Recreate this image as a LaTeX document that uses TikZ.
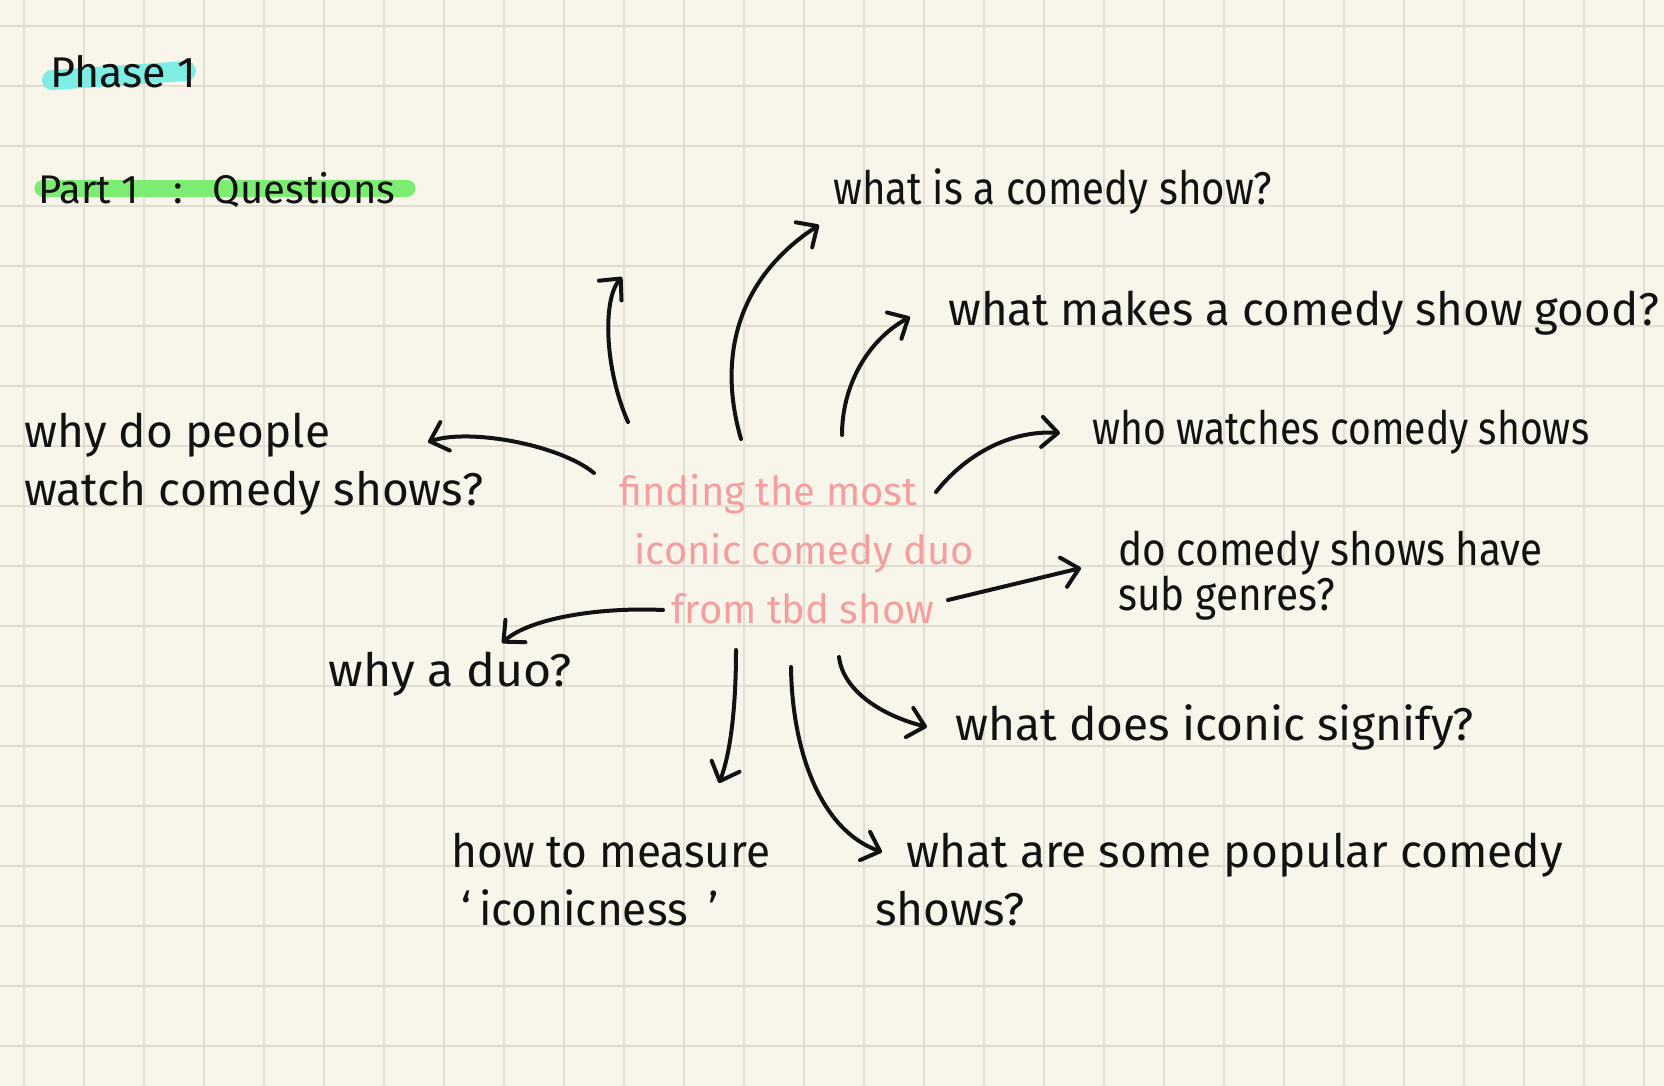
\documentclass[tikz,border=0pt]{standalone}
\usepackage{fontspec}
\setmainfont{Fira Sans}
\usetikzlibrary{arrows.meta,backgrounds}
\definecolor{paper}{RGB}{248,246,234}
\definecolor{gridgray}{RGB}{226,222,211}
\definecolor{ink}{RGB}{18,18,18}
\definecolor{pinkink}{RGB}{245,158,158}
\definecolor{cyanmark}{RGB}{126,238,228}
\definecolor{greenmark}{RGB}{124,236,114}

\begin{document}
\begin{tikzpicture}[x=0.5pt,y=-0.5pt,
    question/.style={anchor=base west, align=left, inner sep=0pt, text=ink,
      font=\fontsize{23}{29}\selectfont\addfontfeature{FakeStretch=#1}},
    question/.default=1,
    hubtext/.style={anchor=base west, align=left, inner sep=0pt, text=pinkink, font=\fontsize{20}{29.5}\selectfont},
    link/.style={draw=ink, line width=2pt, line cap=round, line join=round,
      -{Straight Barb[length=8pt,width=15pt,round]}},
    hilite/.style={line width=#1, line cap=round}]
    \useasboundingbox (0,0) rectangle (1664,1086);

    % squared paper
    \begin{scope}[on background layer]
        \fill[paper] (0,0) rectangle (1664,1086);
        \foreach \k in {0,...,27}
            \draw[gridgray, line width=0.7pt] (24+60*\k,0) -- (24+60*\k,1086);
        \foreach \k in {0,...,17}
            \draw[gridgray, line width=1pt] (0,26+60*\k) -- (1664,26+60*\k);
    \end{scope}

    \node (phase) at (50,88) [anchor=base west, inner sep=0pt, text=ink, font=\fontsize{21.5}{24}\selectfont] {Phase 1};
    \node (part) at (38,203) [anchor=base west, inner sep=0pt, text=ink, font=\fontsize{20}{22}\selectfont] {Part 1\hspace{17pt}:\hspace{15pt}Questions};

    % multi-line nodes sit on the baseline of their last line
    \node (hub) at (619,623) [hubtext] {finding the most\\\hspace*{7.5pt}iconic comedy duo\\\hspace*{26pt}from tbd show};

    \node (qshow) at (833,204) [question=0.875] {what is a comedy show?};
    \node (qgood) at (948,325) [question=0.99] {what makes a comedy show good?};
    \node (qwho) at (1092,444) [question=0.85] {who watches comedy shows};
    \node (qwhy) at (24,505) [question] {why do people\\watch comedy shows?};
    \node (qduo) at (328,686) [question=1.05] {why a duo?};
    \node (qsub) at (1118,610) [question, font=\fontsize{23}{22.5}\selectfont\addfontfeature{FakeStretch=0.88}] {do comedy shows have\\sub genres?};
    \node (qicon) at (955,740) [question] {what does iconic signify?};
    \node (qmeasure) at (451,925) [question=0.96] {how to measure\\\hspace*{5pt}`\,iconicness\;\,'};
    \node (qpopular) at (875,925) [question] {\hspace*{15.5pt}what are some popular comedy\\shows?};

    \coordinate (loose) at (622,277);

    \begin{scope}[on background layer]
        \draw[hilite=10pt, cyanmark] ([shift={(2,-8)}]phase.base west) -- ([shift={(136,-17)}]phase.base west);
        \draw[hilite=8.5pt, greenmark] ([shift={(5,-15)}]part.base west) -- ([shift={(369,-15)}]part.base west);
    \end{scope}

    \draw[link] ([shift={(9,-201)}]hub.base west) .. controls +(-23,-52) and +(-20,23) .. (loose);
    \draw[link] ([shift={(122,-184)}]hub.base west) .. controls +(-23,-79) and +(-84,55) .. ([shift={(-14,21)}]qshow.base west);
    \draw[link] ([shift={(223,-188)}]hub.base west) .. controls +(0,-50) and +(-42,23) .. ([shift={(-38,-8)}]qgood.base west);
    \draw[link] ([shift={(317,-131)}]hub.base west) .. controls +(29,-37) and +(-50,-3) .. ([shift={(-32,-11)}]qwho.base west);
    \draw[link] ([shift={(-25,-150)}]hub.base west) .. controls +(-34,-28) and +(42,-14) .. ([shift={(404,-63)}]qwhy.base west);
    \draw[link] ([shift={(44,-13)}]hub.base west) .. controls +(-63,-3) and +(28,-25) .. ([shift={(174,-43)}]qduo.base west);
    \draw[link] ([shift={(329,-23)}]hub.base west) -- ([shift={(-37,-42)}]qsub.base west);
    \draw[link] ([shift={(117,27)}]hub.base west) .. controls +(0,60) and +(11,-28) .. ([shift={(268,-142)}]qmeasure.base west);
    \draw[link] ([shift={(172,44)}]hub.base west) .. controls +(1,83) and +(-62,-22) .. ([shift={(7,-73)}]qpopular.base west);
    \draw[link] ([shift={(220,34)}]hub.base west) .. controls +(4,33) and +(-47,-12) .. ([shift={(-28,-13)}]qicon.base west);
\end{tikzpicture}
\end{document}
